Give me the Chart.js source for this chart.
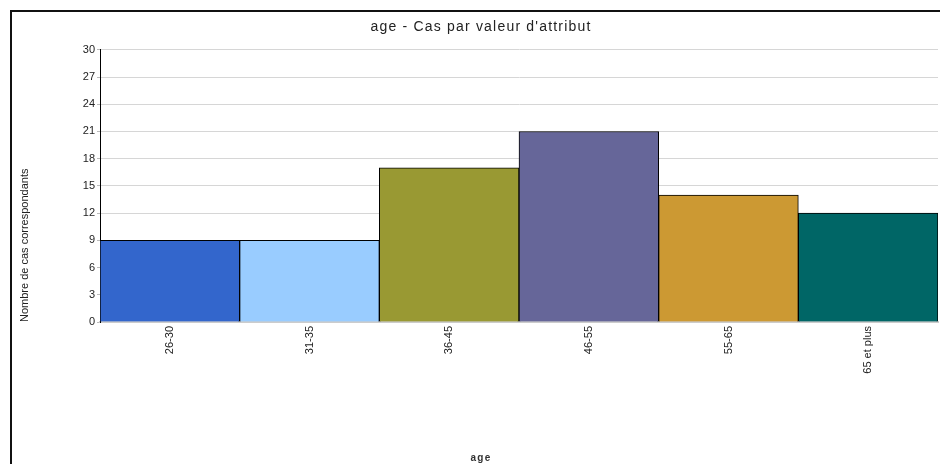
<!DOCTYPE html>
<html lang="fr">
<head>
  <meta charset="UTF-8" />
  <title>age - Cas par valeur d'attribut</title>
  <script src="https://cdn.jsdelivr.net/npm/chart.js"></script>
  <style>
    html, body { margin: 0; padding: 0; background: #fff; }
    #wrap { position: relative; width: 940px; height: 464px; overflow: hidden; }
    #frame {
      position: absolute; left: 10px; top: 10px; width: 940px; height: 460px;
      border-top: 2px solid #111; border-left: 2px solid #111; pointer-events: none;
    }
    canvas { position: absolute; left: 0; top: 0; }
  </style>
</head>
<body>
  <div id="wrap">
    <canvas id="ageChart" width="952" height="464"></canvas>
    <div id="frame"></div>
  </div>

  <script>
    // data
    const categories = ['26-30', '31-35', '36-45', '46-55', '55-65', '65 et plus'];
    const counts = [9, 9, 17, 21, 14, 12];
    const barColors = ['#3366cc', '#99ccff', '#999933', '#666699', '#cc9933', '#006666'];

    const chartTitle = "age - Cas par valeur d'attribut";
    const xTitle = 'age';
    const yTitle = 'Nombre de cas correspondants';

    const textFont = "'Liberation Sans', Arial, sans-serif";

    // title boxes (not the scales) get a little letter spacing like the original
    const spacedTitles = {
      id: 'spacedTitles',
      afterLayout(chart) {
        chart.boxes.forEach(box => {
          if (box.axis || box._spaced) return;
          const draw = box.draw;
          box.draw = function (area) {
            const ctx = chart.ctx;
            ctx.letterSpacing = '1.2px';
            draw.call(this, area);
            ctx.letterSpacing = '0px';
          };
          box._spaced = true;
        });
      }
    };

    new Chart(document.getElementById('ageChart'), {
      type: 'bar',
      data: {
        labels: categories,
        datasets: [{
          data: counts,
          backgroundColor: barColors,
          borderColor: '#000',
          borderWidth: 1,
          categoryPercentage: 1,
          barPercentage: 1
        }]
      },
      options: {
        responsive: false,
        animation: false,
        layout: { padding: { left: 10, top: 10, right: 0, bottom: 0 } },
        plugins: {
          legend: { display: false },
          tooltip: { enabled: false },
          title: {
            display: true,
            text: chartTitle,
            color: '#222',
            font: { family: textFont, size: 14, weight: 'normal' },
            padding: { top: 9, bottom: 14 }
          },
          subtitle: {
            display: true,
            position: 'bottom',
            text: xTitle,
            color: '#333',
            font: { family: textFont, size: 10, weight: 'bold' },
            padding: 0
          }
        },
        scales: {
          x: {
            grid: { display: false },
            border: { display: true, color: '#ccc', width: 2 },
            ticks: {
              color: '#222',
              font: { family: textFont, size: 11 },
              minRotation: 90,
              maxRotation: 90,
              padding: -4
            },
            afterFit(scale) { scale.height = 130; }
          },
          y: {
            min: 0,
            max: 30,
            ticks: {
              stepSize: 3,
              color: '#222',
              font: { family: textFont, size: 11 },
              padding: 2
            },
            grid: { color: '#d6d6d6', tickLength: 3, tickColor: '#bbb' },
            border: { display: true, color: '#000', width: 1 },
            title: {
              display: true,
              text: yTitle,
              align: 'start',
              color: '#222',
              font: { family: textFont, size: 11 },
              padding: { top: 8, bottom: 0 }
            },
            afterFit(scale) { scale.width = 90; }
          },
          yPad: {
            position: 'right',
            display: true,
            grid: { display: false },
            border: { display: false },
            ticks: { display: false },
            afterFit(scale) { scale.width = 14; }
          }
        }
      },
      plugins: [spacedTitles]
    });
  </script>
</body>
</html>
